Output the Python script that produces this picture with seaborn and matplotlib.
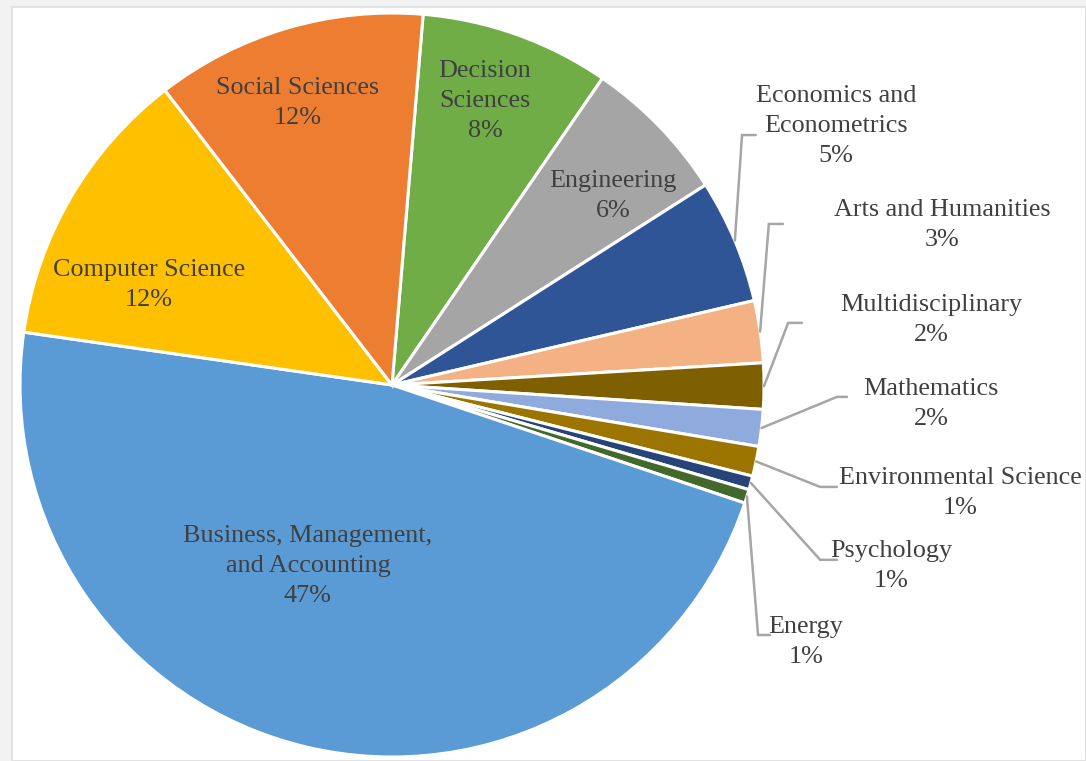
import matplotlib
matplotlib.use('Agg')
import matplotlib.pyplot as plt
import seaborn as sns
from matplotlib.patches import Rectangle
import numpy as np

# 분야별 비중 (%) - 그림에서 읽은 값, 위쪽에서 시계방향 순서
subjects = ['Decision\nSciences', 'Engineering', 'Economics and\nEconometrics',
            'Arts and Humanities', 'Multidisciplinary', 'Mathematics',
            'Environmental Science', 'Psychology', 'Energy',
            'Business, Management,\nand Accounting', 'Computer Science', 'Social Sciences']
shares = [8.25, 6.4, 5.4, 2.7, 2.0, 1.6, 1.3, 0.6, 0.6, 47.2, 12.3, 11.8]
colors = ['#70AD47', '#A5A5A5', '#2F5597', '#F4B183', '#7F6000', '#8FAADC',
          '#9C7500', '#264478', '#43682B', '#5B9BD5', '#FFC000', '#ED7D31']

# 라벨 위치 (파이 반지름 = 1 기준)
inner_pos = {
    'Decision\nSciences': (0.250, 0.763),
    'Engineering': (0.594, 0.508),
    'Business, Management,\nand Accounting': (-0.226, -0.487),
    'Computer Science': (-0.653, 0.269),
    'Social Sciences': (-0.253, 0.758),
}
# 바깥 라벨: (텍스트 위치, 꺾이는 점, 선 끝점)
outer_pos = {
    'Economics and\nEconometrics': ((1.194, 0.696), (0.941, 0.672), (0.978, 0.672)),
    'Arts and Humanities': ((1.478, 0.430), (1.013, 0.433), (1.051, 0.433)),
    'Multidisciplinary': ((1.449, 0.175), (1.065, 0.167), (1.102, 0.167)),
    'Mathematics': ((1.449, -0.051), (1.196, -0.032), (1.223, -0.032)),
    'Environmental Science': ((1.527, -0.290), (1.151, -0.274), (1.196, -0.274)),
    'Psychology': ((1.341, -0.487), (1.151, -0.470), (1.196, -0.470)),
    'Energy': ((1.113, -0.691), (0.984, -0.672), (1.016, -0.672)),
}

sns.set_theme(style='white')
plt.rcParams['font.family'] = ['Liberation Serif', 'DejaVu Serif']

fig = plt.figure(figsize=(10.86, 7.61), dpi=100, facecolor='#f2f2f2')
# 스크린샷 테두리 느낌
fig.patches.append(Rectangle((12 / 1086, 0), 1 - 12 / 1086, 1 - 7 / 761,
                             transform=fig.transFigure, facecolor='white',
                             edgecolor='#e2e2e2', linewidth=1.5, zorder=-1))
ax = fig.add_axes([0, 0, 1, 1])
ax.set_facecolor('none')

wedges, _ = ax.pie(shares, colors=colors, startangle=85.2, counterclock=False,
                   radius=1, wedgeprops=dict(edgecolor='white', linewidth=2.2))

total = sum(shares)
text_color = '#404040'
line_color = '#A6A6A6'
fs = 18.8
ls = 1.48
for w, name, val in zip(wedges, subjects, shares):
    label = f'{name}\n{val / total * 100:.0f}%'
    if name in inner_pos:
        x, y = inner_pos[name]
        ax.text(x, y, label, ha='center', va='center', fontsize=fs,
                color=text_color, linespacing=ls)
    else:
        (tx, ty), (ex, ey), (fx, fy) = outer_pos[name]
        mid = np.deg2rad((w.theta1 + w.theta2) / 2)
        sx, sy = np.cos(mid) * 1.0, np.sin(mid) * 1.0
        ax.plot([sx, ex, fx], [sy, ey, fy], color=line_color, lw=1.8,
                solid_joinstyle='miter')
        ax.text(tx, ty, label, ha='center', va='center', fontsize=fs,
                color=text_color, linespacing=ls)

ax.set_xlim(-392 / 372, (1086 - 392) / 372)
ax.set_ylim((385 - 761) / 372, 385 / 372)
ax.axis('off')

fig.savefig('out.png', dpi=100, facecolor=fig.get_facecolor())
